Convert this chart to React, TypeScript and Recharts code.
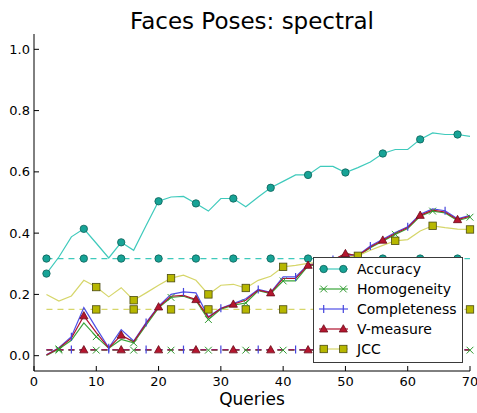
import React from 'react';
import { LineChart, Line, XAxis, YAxis, Legend } from 'recharts';

// queries on the x axis, one sample every 2 queries
const queries = [2, 4, 6, 8, 10, 12, 14, 16, 18, 20, 22, 24, 26, 28, 30, 32, 34, 36, 38, 40, 42, 44, 46, 48, 50, 52, 54, 56, 58, 60, 62, 64, 66, 68, 70];

const accuracy = [0.268, 0.322, 0.388, 0.414, 0.367, 0.319, 0.37, 0.344, 0.425, 0.504, 0.518, 0.52, 0.497, 0.472, 0.513, 0.513, 0.486, 0.518, 0.548, 0.569, 0.59, 0.59, 0.618, 0.618, 0.598, 0.614, 0.632, 0.66, 0.673, 0.673, 0.706, 0.727, 0.722, 0.722, 0.716];
const homogeneity = [0.001, 0.022, 0.05, 0.107, 0.062, 0.024, 0.053, 0.042, 0.1, 0.156, 0.19, 0.194, 0.18, 0.118, 0.152, 0.165, 0.172, 0.212, 0.203, 0.244, 0.244, 0.293, 0.298, 0.31, 0.335, 0.324, 0.352, 0.374, 0.396, 0.415, 0.455, 0.472, 0.466, 0.441, 0.452];
const completeness = [0.003, 0.026, 0.062, 0.157, 0.09, 0.026, 0.085, 0.048, 0.108, 0.162, 0.2, 0.208, 0.205, 0.127, 0.155, 0.17, 0.186, 0.216, 0.207, 0.257, 0.257, 0.297, 0.302, 0.314, 0.328, 0.328, 0.358, 0.38, 0.402, 0.421, 0.462, 0.479, 0.473, 0.447, 0.458];
const vMeasure = [0.002, 0.024, 0.057, 0.13, 0.075, 0.025, 0.067, 0.045, 0.105, 0.159, 0.194, 0.197, 0.183, 0.125, 0.154, 0.168, 0.181, 0.214, 0.205, 0.252, 0.252, 0.295, 0.3, 0.312, 0.333, 0.326, 0.355, 0.377, 0.399, 0.418, 0.458, 0.475, 0.469, 0.444, 0.455];
const jcc = [0.2, 0.178, 0.195, 0.246, 0.224, 0.192, 0.222, 0.181, 0.205, 0.23, 0.253, 0.263, 0.246, 0.2, 0.23, 0.233, 0.221, 0.246, 0.259, 0.29, 0.295, 0.301, 0.305, 0.315, 0.322, 0.326, 0.344, 0.36, 0.375, 0.379, 0.407, 0.424, 0.418, 0.413, 0.412];

// random-query baselines (dashed)
const accuracyBase = 0.317;
const homogeneityBase = 0.018;
const completenessBase = 0.02;
const vMeasureBase = 0.019;
const jccBase = 0.151;

const xTicks = [0, 10, 20, 30, 40, 50, 60, 70];
const yTicks = [0, 0.2, 0.4, 0.6, 0.8, 1.0];

const rows = queries.map((q, i) => ({
  q,
  accuracy: accuracy[i],
  homogeneity: homogeneity[i],
  completeness: completeness[i],
  vMeasure: vMeasure[i],
  jcc: jcc[i],
  accuracyBase,
  homogeneityBase,
  completenessBase,
  vMeasureBase,
  jccBase,
}));

const FONT = '"DejaVu Sans", sans-serif';

type Kind = 'circle' | 'x' | 'bar' | 'triangle' | 'square';

interface Style {
  kind: Kind;
  line: string;
  fill: string;
  edge: string;
  start: number; // first marked sample, then every third
}

const styles: Record<string, Style> = {
  accuracy: { kind: 'circle', line: '#3fcabc', fill: '#17a396', edge: '#0c6158', start: 0 },
  homogeneity: { kind: 'x', line: '#3aa53a', fill: '#3aa53a', edge: '#2f9a2f', start: 1 },
  completeness: { kind: 'bar', line: '#4f4fe6', fill: '#4f4fe6', edge: '#4444dd', start: 2 },
  vMeasure: { kind: 'triangle', line: '#b0122e', fill: '#b5162e', edge: '#6a0a1a', start: 3 },
  jcc: { kind: 'square', line: '#d6d66a', fill: '#b7b700', edge: '#4a4a10', start: 4 },
};

function Marker({ kind, cx, cy, fill, edge }: { kind: Kind; cx: number; cy: number; fill: string; edge: string }) {
  switch (kind) {
    case 'circle':
      return <circle cx={cx} cy={cy} r={3.7} fill={fill} stroke={edge} strokeWidth={0.8} />;
    case 'square':
      return <rect x={cx - 3.7} y={cy - 3.7} width={7.4} height={7.4} fill={fill} stroke={edge} strokeWidth={0.8} />;
    case 'triangle':
      return <polygon points={`${cx},${cy - 4.3} ${cx + 4.1},${cy + 3} ${cx - 4.1},${cy + 3}`} fill={fill} stroke={edge} strokeWidth={0.8} />;
    case 'x':
      return (
        <g stroke={edge} strokeWidth={1}>
          <line x1={cx - 3.4} y1={cy - 3.4} x2={cx + 3.4} y2={cy + 3.4} />
          <line x1={cx - 3.4} y1={cy + 3.4} x2={cx + 3.4} y2={cy - 3.4} />
        </g>
      );
    default:
      return <line x1={cx} y1={cy - 4} x2={cx} y2={cy + 4} stroke={edge} strokeWidth={1.2} />;
  }
}

// markers on every third sample, from the series' own start index
function everyThird(s: Style) {
  return (p: any) => {
    const { cx, cy, index } = p;
    if (index < s.start || (index - s.start) % 3 !== 0 || cx == null || cy == null) return <g key={`e${index}`} />;
    return (
      <g key={`m${index}`}>
        <Marker kind={s.kind} cx={cx} cy={cy} fill={s.fill} edge={s.edge} />
      </g>
    );
  };
}

const BottomTick = (p: any) => (
  <g>
    <line x1={p.x} x2={p.x} y1={p.y} y2={p.y - 5} stroke="#000" />
    <text x={p.x} y={p.y + 15} textAnchor="middle" fontSize={13} fontFamily={FONT} fill="#000">
      {p.payload.value}
    </text>
  </g>
);

const TopTick = (p: any) => <line x1={p.x} x2={p.x} y1={p.y} y2={p.y + 5} stroke="#000" />;

const LeftTick = (p: any) => (
  <g>
    <line x1={p.x} x2={p.x + 5} y1={p.y} y2={p.y} stroke="#000" />
    <text x={p.x - 4} y={p.y + 4.5} textAnchor="end" fontSize={13} fontFamily={FONT} fill="#000">
      {Number(p.payload.value).toFixed(1)}
    </text>
  </g>
);

const RightTick = (p: any) => <line x1={p.x} x2={p.x - 5} y1={p.y} y2={p.y} stroke="#000" />;

const legendItems = [
  { key: 'accuracy', label: 'Accuracy' },
  { key: 'homogeneity', label: 'Homogeneity' },
  { key: 'completeness', label: 'Completeness' },
  { key: 'vMeasure', label: 'V-measure' },
  { key: 'jcc', label: 'JCC' },
];

function LegendBox() {
  return (
    <div
      style={{
        width: 150,
        height: 106,
        boxSizing: 'border-box',
        border: '1px solid #3a3a3a',
        background: '#fff',
        position: 'relative',
        fontFamily: FONT,
        fontSize: 14,
        color: '#000',
      }}
    >
      {legendItems.map((it, i) => {
        const s = styles[it.key];
        const cy = 11 + 20 * i;
        return (
          <React.Fragment key={it.key}>
            <svg width={44} height={20} style={{ position: 'absolute', left: 0, top: cy - 10 }}>
              <line x1={5} x2={34} y1={10} y2={10} stroke={s.line} strokeWidth={1.2} />
              <Marker kind={s.kind} cx={9.7} cy={10} fill={s.fill} edge={s.edge} />
              <Marker kind={s.kind} cx={29.3} cy={10} fill={s.fill} edge={s.edge} />
            </svg>
            <div style={{ position: 'absolute', left: 43, top: cy - 9, lineHeight: '18px', whiteSpace: 'nowrap' }}>{it.label}</div>
          </React.Fragment>
        );
      })}
    </div>
  );
}

const seriesKeys = ['accuracy', 'homogeneity', 'completeness', 'vMeasure', 'jcc'];

export default function App() {
  return (
    <div style={{ position: 'fixed', left: 0, top: 0, width: 477, height: 413, background: '#fff' }}>
      <div
        style={{
          position: 'absolute',
          left: 34,
          width: 436,
          top: 10,
          textAlign: 'center',
          fontFamily: FONT,
          fontSize: 23,
          lineHeight: '23px',
          color: '#000',
        }}
      >
        Faces Poses: spectral
      </div>
      <LineChart width={477} height={413} data={rows} margin={{ top: 34, right: 7, bottom: 0, left: 0 }}>
        <XAxis
          dataKey="q"
          type="number"
          domain={[0, 70]}
          ticks={xTicks}
          interval={0}
          height={42}
          tickSize={0}
          tickMargin={0}
          tickLine={false}
          tick={<BottomTick />}
          stroke="#000"
        />
        <XAxis
          xAxisId="top"
          orientation="top"
          dataKey="q"
          type="number"
          domain={[0, 70]}
          ticks={xTicks}
          interval={0}
          height={0}
          tickSize={0}
          tickMargin={0}
          tickLine={false}
          tick={<TopTick />}
          stroke="#000"
        />
        <YAxis
          type="number"
          domain={[-0.05, 1.05]}
          ticks={yTicks}
          interval={0}
          width={34}
          tickSize={0}
          tickMargin={0}
          tickLine={false}
          tick={<LeftTick />}
          stroke="#000"
        />
        <YAxis
          yAxisId="right"
          orientation="right"
          type="number"
          domain={[-0.05, 1.05]}
          ticks={yTicks}
          interval={0}
          width={0}
          tickSize={0}
          tickMargin={0}
          tickLine={false}
          tick={<RightTick />}
          stroke="#000"
        />
        {seriesKeys.map((k) => (
          <Line
            key={`${k}Base`}
            dataKey={`${k}Base`}
            type="linear"
            stroke={styles[k].line}
            strokeWidth={1.2}
            strokeDasharray="6 5"
            dot={everyThird(styles[k])}
            activeDot={false}
            isAnimationActive={false}
          />
        ))}
        {seriesKeys.map((k) => (
          <Line
            key={k}
            dataKey={k}
            type="linear"
            stroke={styles[k].line}
            strokeWidth={1.2}
            dot={everyThird(styles[k])}
            activeDot={false}
            isAnimationActive={false}
          />
        ))}
        <Legend
          verticalAlign="middle"
          align="center"
          layout="horizontal"
          content={() => <LegendBox />}
          wrapperStyle={{ position: 'absolute', left: 313, top: 257, width: 150, height: 106 }}
        />
      </LineChart>
      <div
        style={{
          position: 'absolute',
          left: 34,
          width: 436,
          top: 391,
          textAlign: 'center',
          fontFamily: FONT,
          fontSize: 17,
          lineHeight: '17px',
          color: '#000',
        }}
      >
        Queries
      </div>
    </div>
  );
}
